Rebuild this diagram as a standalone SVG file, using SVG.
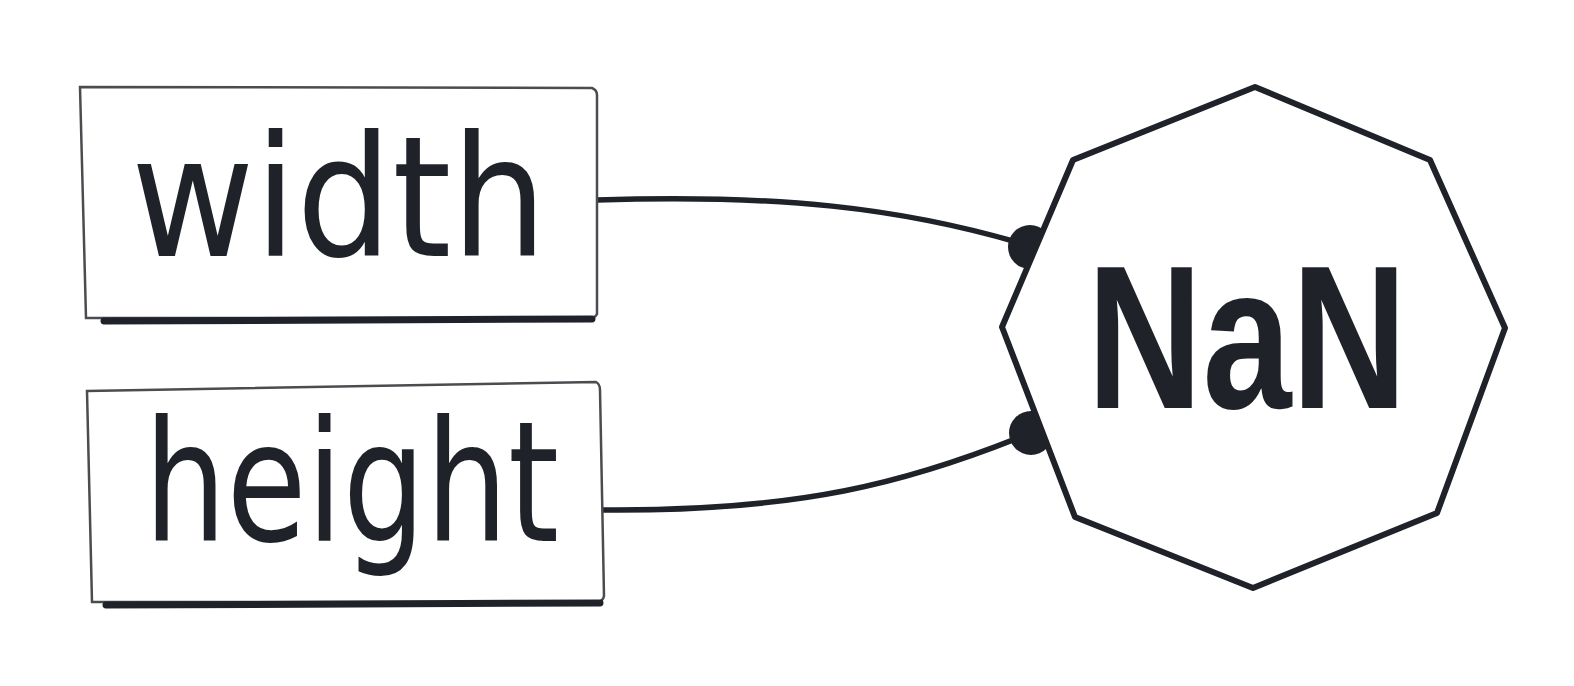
<svg xmlns="http://www.w3.org/2000/svg" width="1574" height="686" viewBox="0 0 1574 686">
<style>
.box{fill:#fff;stroke:#4a4c50;stroke-width:2.5}
.shadow{fill:none;stroke:#1f2229;stroke-width:7;stroke-linecap:round}
.lbl{font-family:"DejaVu Sans","Liberation Sans",sans-serif;font-size:168px;fill:#1f2229}
.conn{fill:none;stroke:#1f2229;stroke-width:5.5;stroke-linecap:round}
.dot{fill:#1f2229}
.oct{fill:#fff;stroke:#1f2229;stroke-width:6;stroke-linejoin:round}
.big{font-family:"Liberation Sans",Arial,sans-serif;font-weight:bold;font-size:204px;fill:#1f2229}
</style>
<rect width="1574" height="686" fill="#fff"/>
<g id="connectors">
<path class="conn" d="M597,200 C780,194 900,208 1020,243"/>
<circle class="dot" cx="1030" cy="247" r="22"/>
<path class="conn" d="M601,510 C800,512 910,482 1028,434"/>
<circle class="dot" cx="1031" cy="433" r="22"/>
</g>
<g id="node-width">
<path class="box" d="M80,87 L592,88 Q597,90 597,95 L597,314 Q595,318 590,318 L86,318 Z"/>
<path class="shadow" d="M104,321 L592,319"/>
<text class="lbl" x="131" y="256" textLength="416" lengthAdjust="spacingAndGlyphs">width</text>
</g>
<g id="node-height">
<path class="box" d="M87,391 L596,382 Q600,384 600,390 L604,596 Q603,601 598,602 L92,602 Z"/>
<path class="shadow" d="M106,605 L600,603"/>
<text class="lbl" x="144" y="541" textLength="415" lengthAdjust="spacingAndGlyphs">height</text>
</g>
<g id="node-nan">
<polygon class="oct" points="1255,87 1430,160 1505,328 1437,513 1253,588 1075,517 1002,327 1073,160"/>
<text class="big" x="1087" y="408" textLength="320" lengthAdjust="spacingAndGlyphs">NaN</text>
</g>
</svg>
